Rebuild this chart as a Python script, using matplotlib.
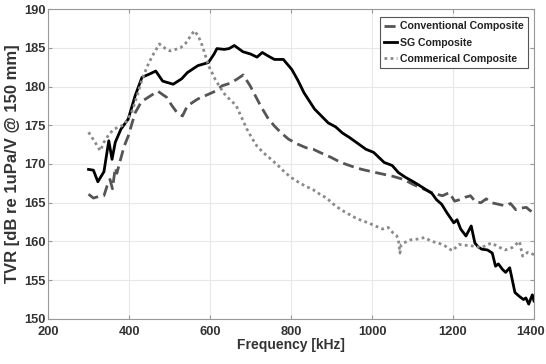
import matplotlib
matplotlib.use('Agg')
from matplotlib import pyplot as plt
import matplotlib.transforms as mtransforms

# SG Composite (solid black)
sg_f = [300, 312, 323, 338, 350, 358, 366, 380, 398, 415, 432, 450, 466, 483, 509, 530, 544, 570, 596,
        610, 617, 635, 647, 660, 681, 700, 716, 729, 745, 759, 781, 802, 817, 832, 858, 875, 892, 910, 927,
        945, 961, 985, 1004, 1018, 1030, 1050, 1065, 1082, 1099, 1115, 1133, 1148, 1159, 1172, 1185, 1202,
        1210, 1219, 1232, 1245, 1254, 1262, 1271, 1285, 1297, 1305, 1312, 1322, 1330, 1340, 1353, 1364,
        1374, 1380, 1387, 1392, 1396, 1400]
sg_v = [169.3, 169.2, 167.7, 169.0, 173.0, 170.6, 172.8, 174.5, 175.8, 178.8, 181.2, 181.6, 182.0, 180.7,
        180.3, 181.0, 181.8, 182.7, 183.1, 184.2, 184.9, 184.8, 184.9, 185.3, 184.5, 184.2, 183.8, 184.4,
        183.9, 183.5, 183.5, 182.2, 180.8, 179.2, 177.1, 176.2, 175.3, 174.8, 174.0, 173.4, 172.8, 171.9,
        171.5, 170.8, 170.2, 169.8, 168.9, 168.3, 167.8, 167.3, 166.7, 166.2, 165.4, 164.8, 163.7, 162.4,
        162.8, 161.6, 160.7, 162.0, 159.8, 159.3, 159.0, 158.9, 158.5, 156.8, 157.1, 156.4, 156.0, 156.6,
        153.4, 152.9, 152.5, 152.7, 151.9, 152.6, 153.1, 152.3]

# Conventional Composite (dashed)
conv_f = [300, 312, 325, 338, 346, 353, 359, 366, 370, 377, 388, 398, 415, 430, 441, 456, 471, 493, 505,
          519, 532, 544, 570, 596, 613, 630, 648, 665, 682, 699, 712, 725, 742, 759, 776, 794, 815, 837,
          855, 871, 897, 923, 950, 975, 1000, 1026, 1052, 1078, 1104, 1130, 1152, 1174, 1191, 1204, 1217,
          1230, 1243, 1256, 1269, 1282, 1295, 1312, 1329, 1342, 1355, 1368, 1381, 1390, 1400]
conv_v = [166.1, 165.6, 165.8, 165.9, 167.2, 168.0, 166.8, 169.5, 168.8, 170.2, 172.3, 173.6, 176.6,
          178.0, 178.4, 178.9, 179.4, 178.6, 177.6, 176.6, 176.2, 177.5, 178.4, 179.0, 179.4, 180.1,
          180.4, 180.9, 181.5, 180.1, 178.8, 177.5, 176.0, 174.9, 174.0, 173.2, 172.6, 172.1, 171.9,
          171.5, 170.9, 170.2, 169.7, 169.3, 169.0, 168.7, 168.4, 168.0, 167.3, 166.7, 166.2, 165.9,
          166.3, 165.2, 165.4, 165.7, 165.9, 165.1, 165.0, 165.5, 165.0, 164.8, 164.6, 164.9, 164.1,
          164.3, 164.4, 164.0, 163.7]

# Commerical Composite (dotted)
comm_f = [300, 315, 329, 338, 350, 363, 376, 389, 406, 420, 432, 445, 458, 475, 490, 501, 515, 527, 540,
          549, 561, 570, 578, 588, 596, 605, 613, 626, 639, 652, 665, 678, 691, 704, 716, 733, 751, 768,
          785, 802, 820, 837, 854, 871, 888, 905, 923, 940, 957, 974, 991, 1008, 1026, 1040, 1052, 1060,
          1065, 1069, 1072, 1078, 1095, 1112, 1130, 1147, 1164, 1181, 1198, 1215, 1232, 1250, 1270, 1295,
          1312, 1329, 1346, 1364, 1372, 1385, 1400]
comm_v = [174.1, 172.9, 171.7, 172.8, 173.8, 174.5, 174.8, 175.1, 176.6, 178.8, 180.9, 182.6, 184.0,
          185.5, 184.9, 184.6, 184.8, 185.0, 185.6, 186.3, 187.2, 186.6, 185.7, 184.1, 182.7, 181.8,
          180.9, 179.8, 178.8, 178.2, 177.5, 176.0, 174.5, 173.3, 172.3, 171.4, 170.6, 169.8, 168.9,
          168.2, 167.6, 167.1, 166.7, 166.1, 165.6, 164.8, 164.1, 163.6, 163.1, 162.7, 162.4, 162.0,
          161.6, 161.8, 161.1, 160.8, 160.3, 158.5, 159.6, 159.8, 160.2, 160.3, 160.5, 160.0, 159.8,
          159.4, 158.8, 159.6, 159.5, 159.4, 159.2, 159.8, 159.3, 158.9, 159.2, 160.0, 158.1, 158.6, 158.3]

plt.rcParams['font.family'] = ['Liberation Sans', 'DejaVu Sans']
plt.rcParams['font.weight'] = 'bold'

fig = plt.figure(figsize=(5.46, 3.64), dpi=100)
ax = fig.add_axes([0.088, 0.124, 0.89, 0.851])

ax.plot(conv_f, conv_v, color='#555555', lw=2.0, ls=(0, (4, 2)), label='Conventional Composite')
ax.plot(sg_f, sg_v, color='black', lw=2.0, label='SG Composite')
ax.plot(comm_f, comm_v, color='#8a8a8a', lw=2.0, ls=(0, (1, 1.2)), label='Commerical Composite')

ax.set_xlim(200, 1400)
ax.set_ylim(150, 190)
ax.set_xticks(range(200, 1401, 200))
ax.set_yticks(range(150, 191, 5))
ax.grid(True, color='#e8e8e8', lw=0.8)
ax.set_axisbelow(True)
for s in ax.spines.values():
    s.set_color('#999999')
ax.tick_params(colors='#333333', labelsize=9.3, direction='in', length=3,
               top=True, right=True, pad=2)
ax.tick_params(axis='x', pad=5)
ax.tick_params(axis='both', color='#999999')
for lbl in ax.get_xticklabels() + ax.get_yticklabels():
    lbl.set_fontweight('bold')

# nudge the last x tick label so it stays inside the figure
last = ax.get_xticklabels()[-1]
last.set_transform(last.get_transform() + mtransforms.ScaledTranslation(-3 / 100, 0, fig.dpi_scale_trans))

ax.set_xlabel('Frequency [kHz]', fontsize=10, fontweight='bold', color='#333333', labelpad=0)
ax.set_ylabel('TVR [dB re 1uPa/V @ 150 mm]', fontsize=12, fontweight='bold', color='#333333', labelpad=3)

leg = ax.legend(loc='upper right', fontsize=7.6, handlelength=1.2, handletextpad=0.3,
                borderpad=0.4, labelspacing=0.6, fancybox=False, framealpha=1,
                borderaxespad=0, bbox_to_anchor=(0.988, 0.974))
leg.get_frame().set_edgecolor('#555555')
leg.get_frame().set_linewidth(0.8)
for t in leg.get_texts():
    t.set_fontweight('bold')
    t.set_color('#222222')

fig.savefig('out.png', dpi=100)
